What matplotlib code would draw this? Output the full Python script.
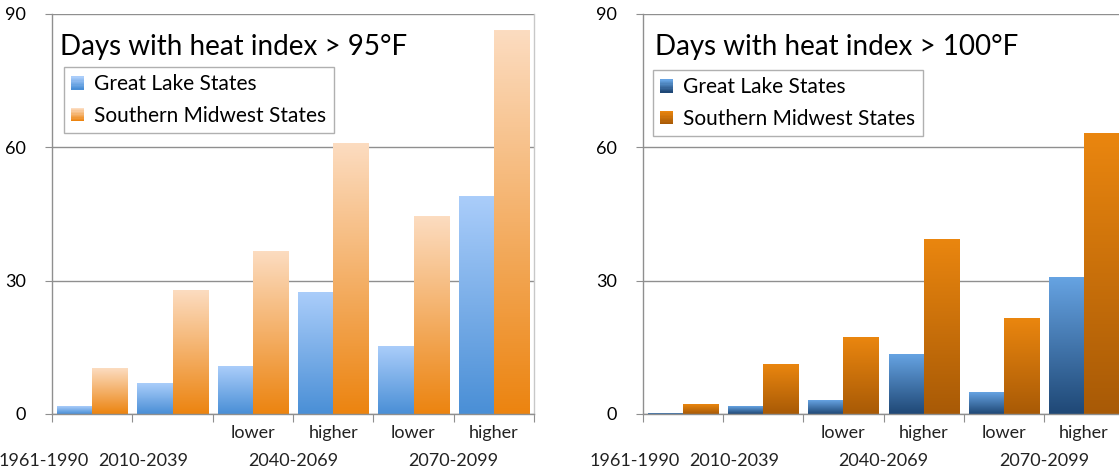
import numpy as np
import matplotlib
matplotlib.use('Agg')
import matplotlib.pyplot as plt
import matplotlib.transforms as mtransforms
from matplotlib.colors import to_rgb
from matplotlib.patches import Rectangle
from matplotlib.legend_handler import HandlerBase

plt.rcParams['font.family'] = ['Lato', 'DejaVu Sans']

# scenario columns: 1961-1990, 2010-2039, 2040-2069 lower/higher, 2070-2099 lower/higher
periods = ['1961-1990', '2010-2039', '2040-2069', '2070-2099']
scenarios = ['', '', 'lower', 'higher', 'lower', 'higher']
series_names = ['Great Lake States', 'Southern Midwest States']

# days with heat index > 95F
great_lakes_95 = [1.6, 6.8, 10.7, 27.3, 15.3, 49.0]
south_mw_95 = [10.2, 27.8, 36.6, 60.9, 44.5, 86.2]

# days with heat index > 100F
great_lakes_100 = [0.2, 1.6, 3.0, 13.4, 4.9, 30.7]
south_mw_100 = [2.2, 11.1, 17.2, 39.2, 21.6, 63.1]

# (top colour, bottom colour) of each bar gradient
grad_95 = [('#aacdfa', '#4a8fd6'), ('#fcdcc0', '#ec8410')]
grad_100 = [('#66a3e2', '#1f4876'), ('#ea860f', '#a85a06')]

grid_col = '#8f8f8f'
fsz = 13
bar_w = 0.4375


def gradient_img(top, bottom, n=128):
    t = np.linspace(0, 1, n)[:, None]
    c0 = np.array(to_rgb(top))
    c1 = np.array(to_rgb(bottom))
    return (c0 * (1 - t) + c1 * t)[:, None, :]


class GradientHandler(HandlerBase):
    def __init__(self, top, bottom):
        super().__init__()
        self.top = top
        self.bottom = bottom

    def create_artists(self, legend, orig_handle, xdescent, ydescent,
                       width, height, fontsize, trans):
        artists = []
        nstripe = 10
        side = height * 0.85
        x0 = -xdescent
        y0 = -ydescent + (height - side) / 2
        img = gradient_img(self.top, self.bottom, nstripe)
        for k in range(nstripe):
            r = Rectangle((x0, y0 + side * (nstripe - 1 - k) / nstripe),
                          side * 0.9, side / nstripe,
                          facecolor=img[k, 0], edgecolor='none',
                          transform=trans)
            artists.append(r)
        return artists


def draw_panel(ax, series, grads, title, title_x, leg_anchor):
    x = np.arange(len(scenarios))
    offsets = [-bar_w / 2, bar_w / 2]
    for vals, (top, bottom), off in zip(series, grads, offsets):
        for xi, v in zip(x, vals):
            ax.imshow(gradient_img(top, bottom),
                      extent=[xi + off - bar_w / 2, xi + off + bar_w / 2, 0, v],
                      aspect='auto', interpolation='bilinear', zorder=2)

    ax.set_xlim(-0.5, len(scenarios) - 0.5)
    ax.set_ylim(0, 90)
    ax.set_yticks([0, 30, 60, 90])
    ax.yaxis.grid(True, color=grid_col, linewidth=1.0, zorder=0)
    ax.set_axisbelow(True)
    for side in ['left', 'bottom', 'right']:
        ax.spines[side].set_color(grid_col)
        ax.spines[side].set_linewidth(1.0)
    ax.spines['right'].set_color('#c8c8c8')
    ax.spines['top'].set_visible(False)
    ax.tick_params(axis='y', length=5, color=grid_col, labelsize=fsz, pad=14)

    # group boundary ticks on the category axis
    ax.set_xticks(np.arange(-0.5, len(scenarios)))
    ax.set_xticklabels([])
    ax.tick_params(axis='x', length=6, color=grid_col, direction='out')

    trans = mtransforms.blended_transform_factory(ax.transData, ax.transAxes)
    for xi, s in zip(x, scenarios):
        if s:
            ax.text(xi, -0.0475, s, transform=trans, ha='center', va='center',
                    fontsize=fsz, color='#222222', clip_on=False)
    # first two period labels are pushed apart so they don't collide
    period_pos = [-0.6, 0.64, 2.5, 4.5]
    for xp, p in zip(period_pos, periods):
        ax.text(xp, -0.1175, p, transform=trans, ha='center', va='center',
                fontsize=fsz, color='#222222', clip_on=False)

    ax.text(title_x, 0.9175, title, transform=ax.transAxes, ha='left',
            va='center', fontsize=20, color='black')

    handles = [Rectangle((0, 0), 1, 1), Rectangle((0, 0), 1, 1)]
    hmap = {handles[i]: GradientHandler(*grads[i]) for i in range(2)}
    leg = ax.legend(handles, series_names, handler_map=hmap,
                    loc='upper left', bbox_to_anchor=leg_anchor,
                    fontsize=15, frameon=True, fancybox=False,
                    edgecolor='#b0b0b0', framealpha=1.0,
                    handlelength=0.8, handleheight=0.8, handletextpad=0.3,
                    labelspacing=0.55, borderpad=0.35, borderaxespad=0)
    leg.get_frame().set_linewidth(1.0)
    leg.set_zorder(5)


W, H = 1119, 472
fig = plt.figure(figsize=(W / 100, H / 100), dpi=100)
fig.set_facecolor('w')

ax1 = fig.add_axes([52 / W, 58 / H, 482 / W, 400 / H])
ax2 = fig.add_axes([643 / W, 58 / H, 481 / W, 400 / H])

draw_panel(ax1, [great_lakes_95, south_mw_95], grad_95,
           'Days with heat index > 95°F', 0.017, (0.025, 0.8675))
draw_panel(ax2, [great_lakes_100, south_mw_100], grad_100,
           'Days with heat index > 100°F', 0.025, (0.021, 0.86))

fig.savefig('out.png', dpi=100)
